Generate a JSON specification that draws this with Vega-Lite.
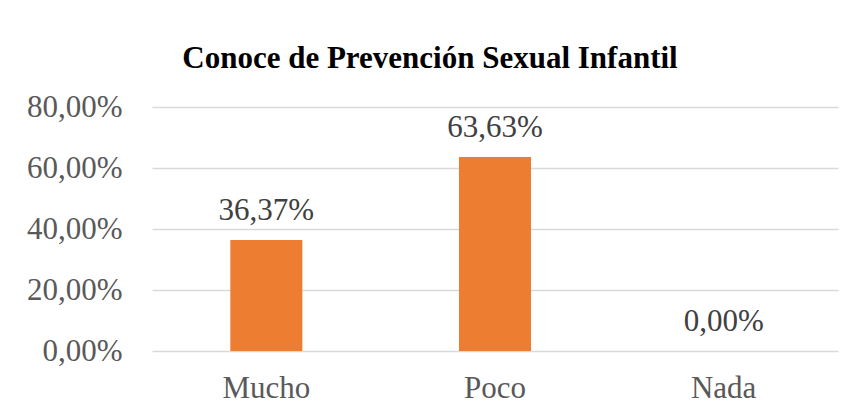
{
  "$schema": "https://vega.github.io/schema/vega-lite/v6.json",
  "width": 686,
  "height": 244,
  "autosize": {"type": "none"},
  "padding": {"left": 152, "top": 107, "right": 16, "bottom": 63},
  "background": "white",
  "config": {
    "locale": {"number": {"decimal": ",", "thousands": ".", "grouping": [3], "currency": ["", " €"]}},
    "view": {"stroke": null},
    "font": "Liberation Serif"
  },
  "title": {
    "text": "Conoce de Prevención Sexual Infantil",
    "font": "Liberation Serif",
    "fontSize": 31,
    "fontWeight": "bold",
    "color": "#000000",
    "anchor": "middle",
    "baseline": "alphabetic",
    "dx": -65,
    "offset": -8
  },
  "data": {
    "values": [
      {"categoria": "Mucho", "porcentaje": 0.3637},
      {"categoria": "Poco", "porcentaje": 0.6363},
      {"categoria": "Nada", "porcentaje": 0.0}
    ]
  },
  "encoding": {
    "x": {
      "field": "categoria",
      "type": "nominal",
      "sort": null,
      "scale": {"paddingInner": 0.685, "paddingOuter": 0.3425},
      "axis": {
        "title": null,
        "labelAngle": 0,
        "labelFont": "Liberation Serif",
        "labelFontSize": 31,
        "labelColor": "#595959",
        "labelPadding": 22,
        "ticks": false,
        "domain": false
      }
    },
    "y": {
      "field": "porcentaje",
      "type": "quantitative",
      "scale": {"domain": [0, 0.8], "nice": false},
      "axis": {
        "title": null,
        "values": [0, 0.2, 0.4, 0.6, 0.8],
        "format": ".2%",
        "labelFont": "Liberation Serif",
        "labelFontSize": 31,
        "labelColor": "#595959",
        "labelPadding": 30,
        "ticks": false,
        "domain": false,
        "gridColor": "#d9d9d9",
        "gridWidth": 1.5
      }
    }
  },
  "layer": [
    {"mark": {"type": "bar", "color": "#ED7D31"}},
    {
      "mark": {"type": "text", "baseline": "alphabetic", "dy": -20, "fontSize": 31, "font": "Liberation Serif", "color": "#404040"},
      "encoding": {"text": {"field": "porcentaje", "type": "quantitative", "format": ".2%"}}
    }
  ]
}
